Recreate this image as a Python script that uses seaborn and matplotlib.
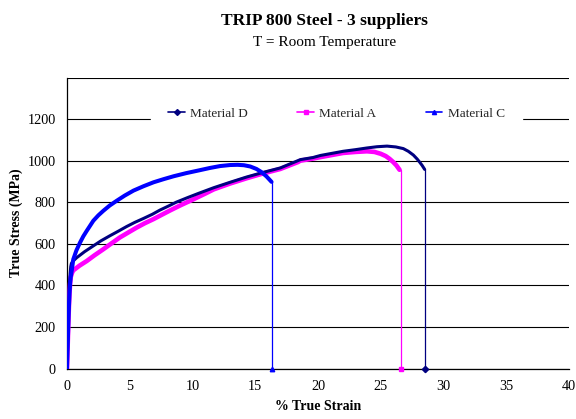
import matplotlib
matplotlib.use("Agg")
import matplotlib.pyplot as plt
from matplotlib.lines import Line2D
import seaborn as sns
import pandas as pd

# Tensile test curves (true strain in %, true stress in MPa)
strain_d = [0, 0.05, 0.1, 0.15, 0.2, 0.25, 0.3, 0.35, 0.45, 0.77, 1.4, 2.1, 2.7, 3.4,
            4.1, 4.75, 5.4, 6.1, 6.8, 7.4, 8.1, 8.7, 9.6, 10.5, 11.7, 13, 14.3, 15.6,
            17, 18.6, 19.6, 20.2, 21.1, 22, 23, 23.9, 24.7, 25.5, 26.2, 26.8, 27.2,
            27.6, 27.9, 28.1, 28.3, 28.5]
stress_d = [0, 110, 220, 320, 400, 455, 490, 505, 515, 533, 562, 590, 614, 638,
            661, 683, 703, 722, 742, 762, 782, 800, 822, 843, 870, 896, 921, 943,
            965, 1005, 1015, 1025, 1035, 1045, 1053, 1061, 1067, 1070, 1066, 1058, 1045,
            1027, 1008, 993, 977, 958]

strain_a = [0, 0.05, 0.1, 0.15, 0.2, 0.25, 0.3, 0.4, 0.5, 1.0, 1.57, 2.2, 2.9, 3.5,
            4.2, 4.9, 5.55, 6.2, 6.9, 7.5, 8.2, 9.0, 10.0, 11.0, 11.7, 13, 14.3, 15.6,
            17, 18.4, 18.6, 19.6, 20.2, 21.1, 22, 23, 23.9, 24.5, 25.0, 25.4, 25.7,
            26.0, 26.25, 26.5]
stress_a = [0, 100, 200, 290, 360, 410, 440, 460, 472, 495, 517, 545, 574, 600,
            630, 655, 678, 699, 719, 738, 760, 784, 812, 841, 862, 890, 915, 938,
            960, 993, 1000, 1010, 1017, 1027, 1037, 1042, 1045, 1042, 1033, 1022, 1009,
            993, 977, 956]

strain_c = [0, 0.05, 0.1, 0.15, 0.2, 0.25, 0.3, 0.4, 0.5, 0.75, 1.04, 1.3, 1.57, 2.1,
            2.5, 2.9, 3.4, 3.96, 4.6, 5.3, 6.1, 6.9, 7.7, 8.5, 9.5, 10.5, 11.4, 12.2,
            13.0, 13.6, 14.1, 14.6, 15.1, 15.5, 15.9, 16.3]
stress_c = [0, 100, 200, 290, 360, 410, 440, 480, 525, 568, 606, 636, 662, 711,
            737, 759, 784, 807, 832, 856, 877, 896, 911, 925, 940, 953, 965, 974,
            979, 980, 978, 972, 960, 945, 924, 898]

# Fracture: final strain where the stress falls to zero
fracture_d = 28.55
fracture_a = 26.62
fracture_c = 16.33

names = ["Material D", "Material A", "Material C"]
colors = ["#000080", "#FF00FF", "#0000FF"]
markers = ["D", "s", "^"]

x_ticks = [0, 5, 10, 15, 20, 25, 30, 35, 40]
y_ticks = [0, 200, 400, 600, 800, 1000, 1200, 1400]
y_labels = ["0", "200", "400", "600", "800", "1000", "1200", ""]

sns.set_theme(style="white")
plt.rcParams["font.family"] = ["Liberation Serif", "DejaVu Serif"]

fig = plt.figure(figsize=(5.76, 4.19), dpi=100)
ax = fig.add_axes([0.1163, 0.1205, 0.8715, 0.6945])

curves = {
    "Material D": (strain_d, stress_d, fracture_d, 2.2, 4),
    "Material A": (strain_a, stress_a, fracture_a, 3.3, 3),
    "Material C": (strain_c, stress_c, fracture_c, 2.9, 5),
}

for name, col, mk in zip(names, colors, markers):
    sx, sy, fx, lw, z = curves[name]
    df = pd.DataFrame({"strain": sx, "stress": sy})
    sns.lineplot(data=df, x="strain", y="stress", ax=ax, sort=False,
                 estimator=None, color=col, linewidth=lw, zorder=z,
                 solid_joinstyle="round", solid_capstyle="round")
    drop = pd.DataFrame({"strain": [sx[-1], fx, fx],
                         "stress": [sy[-1], sy[-1], 0]})
    sns.lineplot(data=drop, x="strain", y="stress", ax=ax, sort=False,
                 estimator=None, color=col, linewidth=0.9, zorder=2)
    ax.plot([fx], [0], marker=mk, color=col, markersize=3.2, zorder=6,
            clip_on=False)

ax.set_xlim(0, 40)
ax.set_ylim(0, 1400)
ax.set_xticks(x_ticks)
ax.set_yticks(y_ticks)
ax.set_yticklabels(y_labels)
ax.grid(axis="y", color="black", linewidth=0.8)
ax.grid(axis="x", visible=False)
ax.set_axisbelow(True)

for side in ["top", "right"]:
    ax.spines[side].set_visible(False)
for side in ["left", "bottom"]:
    ax.spines[side].set_color("black")
    ax.spines[side].set_linewidth(0.9)

ax.tick_params(axis="both", direction="out", length=5, width=0.8, color="black",
               labelsize=10.3, labelcolor="black", pad=3)

ax.set_xlabel("% True Strain", fontsize=10, fontweight="bold", color="black",
              labelpad=5)
ax.set_ylabel("True Stress (MPa)", fontsize=10, fontweight="bold", color="black",
              labelpad=3)

handles = [Line2D([0], [0], color=c, marker=m, markersize=3, linewidth=1.2)
           for c, m in zip(colors, markers)]
leg = ax.legend(handles, names, ncol=3, loc="center", bbox_to_anchor=(0.537, 0.875),
                frameon=True, fontsize=9.5, handlelength=1.25, handletextpad=0.4,
                columnspacing=3.75, borderpad=1.3, borderaxespad=0, fancybox=False)
leg.get_frame().set_facecolor("white")
leg.get_frame().set_edgecolor("white")
leg.get_frame().set_alpha(1)
leg.set_zorder(7)

fig.text(0.564, 0.951, "TRIP 800 Steel - 3 suppliers", ha="center", va="center",
         fontsize=12.5, fontweight="bold", color="black")
fig.text(0.564, 0.899, "T = Room Temperature", ha="center", va="center",
         fontsize=11, color="black")

fig.savefig("out.png", dpi=100)
